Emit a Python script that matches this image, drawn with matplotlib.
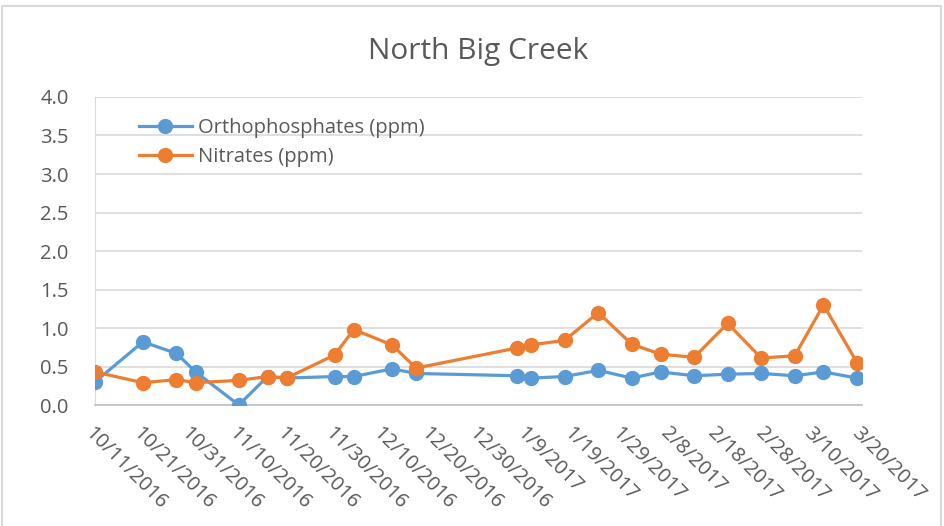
import datetime as dt
import matplotlib
matplotlib.use("Agg")
import matplotlib.pyplot as plt
from matplotlib.patches import Rectangle

plt.rcParams['font.family'] = ['Open Sans', 'DejaVu Sans']

# sample dates (month, day, year)
dates = [
    (10, 11, 2016), (10, 21, 2016), (10, 28, 2016), (11, 1, 2016), (11, 10, 2016),
    (11, 16, 2016), (11, 20, 2016), (11, 30, 2016), (12, 4, 2016), (12, 12, 2016),
    (12, 17, 2016), (1, 7, 2017), (1, 10, 2017), (1, 17, 2017), (1, 24, 2017),
    (1, 31, 2017), (2, 6, 2017), (2, 13, 2017), (2, 20, 2017), (2, 27, 2017),
    (3, 6, 2017), (3, 12, 2017), (3, 19, 2017),
]
ortho = [0.30, 0.82, 0.67, 0.43, 0.00, 0.37, 0.35, 0.37, 0.37, 0.47, 0.41,
         0.38, 0.35, 0.37, 0.45, 0.35, 0.43, 0.38, 0.40, 0.41, 0.38, 0.43, 0.35]
nitrates = [0.43, 0.29, 0.33, 0.29, 0.32, 0.37, 0.35, 0.65, 0.98, 0.78, 0.48,
            0.74, 0.78, 0.84, 1.20, 0.79, 0.66, 0.62, 1.06, 0.61, 0.64, 1.30, 0.55]

x = [dt.datetime(y, m, d) for m, d, y in dates]
start = dt.datetime(2016, 10, 11)
end = dt.datetime(2017, 3, 20)

GRAY = '#595959'
BLUE = '#5B9BD5'
ORANGE = '#ED7D31'

fig = plt.figure(figsize=(9.45, 5.26), dpi=100)
ax = fig.add_axes([0.1005, 0.23, 0.8115, 0.5856])

ax.plot(x, ortho, color=BLUE, lw=2.3, marker='o', ms=10, label='Orthophosphates (ppm)', zorder=3)
ax.plot(x, nitrates, color=ORANGE, lw=2.3, marker='o', ms=10, label='Nitrates (ppm)', zorder=4)

ax.set_xlim(start, end)
ax.set_ylim(0, 4)
ax.set_yticks([0, 0.5, 1, 1.5, 2, 2.5, 3, 3.5, 4])
ax.set_yticklabels(['%.1f' % v for v in ax.get_yticks()])
ticks = [start + dt.timedelta(days=10 * i) for i in range(17)]
ax.set_xticks(ticks)
ax.set_xticklabels([f'{t.month}/{t.day}/{t.year}' for t in ticks],
                   rotation=-45, ha='left', va='top', rotation_mode='anchor')

ax.grid(axis='y', color='#d9d9d9', lw=1.2)
ax.set_axisbelow(True)
for s in ['top', 'right']:
    ax.spines[s].set_visible(False)
ax.spines['left'].set_color('#d9d9d9')
ax.spines['bottom'].set_color('#bfbfbf')
ax.spines['bottom'].set_linewidth(1.2)
ax.tick_params(axis='both', length=0, colors=GRAY, labelsize=14.5)
ax.tick_params(axis='y', pad=19)
ax.tick_params(axis='x', pad=13)

ax.set_title('North Big Creek', color=GRAY, fontsize=21.5, pad=27)

leg = ax.legend(loc='upper left', bbox_to_anchor=(0.034, 0.99), frameon=False,
                fontsize=14.5, handlelength=2.6, labelspacing=0.45, handletextpad=0.3)
for t in leg.get_texts():
    t.set_color(GRAY)

fig.patches.append(Rectangle((0.002, -0.01), 0.994, 0.999, transform=fig.transFigure,
                             fill=False, edgecolor='#d9d9d9', lw=1.5))

fig.savefig('out.png', dpi=100)
